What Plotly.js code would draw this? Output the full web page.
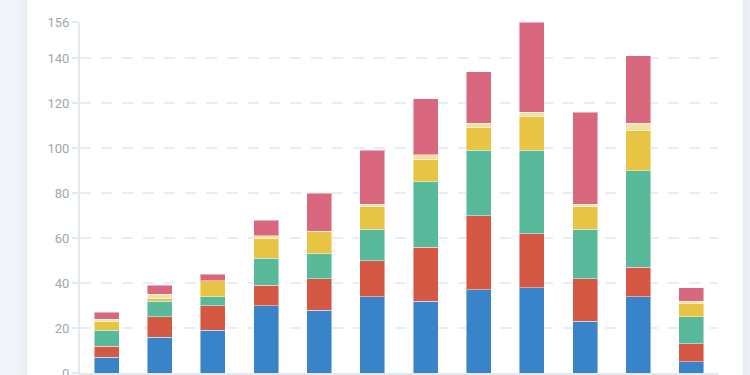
<!DOCTYPE html>
<html>
<head>
<meta charset="utf-8">
<script src="https://cdn.plot.ly/plotly-3.0.1.min.js"></script>
<style>
  html, body { margin:0; padding:0; width:750px; height:375px; overflow:hidden; background:#f2f5f9; }
  #card { position:absolute; left:27px; top:-30px; width:716px; height:440px; background:#ffffff; border-radius:28px; box-shadow:0 0 14px rgba(180,195,215,0.35); }
  #chart { position:absolute; left:0; top:0; width:750px; height:405px; }
</style>
</head>
<body>
<div id="card"></div>
<div id="chart"></div>
<script>
const categories = ["1","2","3","4","5","6","7","8","9","10","11","12"];
const seriesA = [7, 16, 19, 30, 28, 34, 32, 37, 38, 23, 34, 5];
const seriesB = [5, 9, 11, 9, 14, 16, 24, 33, 24, 19, 13, 8];
const seriesC = [7, 7, 4, 12, 11, 14, 29, 29, 37, 22, 43, 12];
const seriesD = [4, 1, 7, 9, 10, 10, 10, 10, 15, 10, 18, 6];
const seriesE = [1, 2, 0, 1, 0, 1, 2, 2, 2, 1, 3, 1];
const seriesF = [3, 4, 3, 7, 17, 24, 25, 23, 40, 41, 30, 6];
const tickVals = [0, 20, 40, 60, 80, 100, 120, 140, 156];

const colors = ["#3984c8", "#d45843", "#59b99b", "#e8c444", "#f0e1a4", "#d9687f"];
const allSeries = [seriesA, seriesB, seriesC, seriesD, seriesE, seriesF];

const traces = allSeries.map((s, i) => ({
  type: "bar",
  x: categories,
  y: s,
  marker: { color: colors[i], line: { color: "rgba(255,255,255,0.45)", width: 1 } },
  hoverinfo: "none"
}));

const layout = {
  width: 750, height: 405,
  margin: { l: 80, r: 32, t: 22, b: 32 },
  paper_bgcolor: "rgba(0,0,0,0)",
  plot_bgcolor: "rgba(0,0,0,0)",
  barmode: "stack",
  bargap: 0.53,
  showlegend: false,
  xaxis: {
    type: "category",
    showticklabels: false,
    showgrid: false,
    zeroline: false,
    showline: true,
    linecolor: "#e3e9f1",
    linewidth: 2,
    ticks: ""
  },
  yaxis: {
    range: [0, 156],
    tickvals: tickVals,
    ticktext: tickVals.map(String),
    showgrid: true,
    gridcolor: "#e7edf4",
    gridwidth: 2,
    griddash: "11px,10px",
    zeroline: false,
    showline: true,
    linecolor: "#e3e9f1",
    linewidth: 2,
    ticks: "outside",
    ticklen: 6,
    tickcolor: "#e3e9f1",
    tickwidth: 2,
    tickfont: { family: "Roboto, 'Open Sans', sans-serif", size: 13, color: "#a2a6ad" }
  }
};

Plotly.newPlot("chart", traces, layout, { staticPlot: true, displayModeBar: false });
</script>
</body>
</html>
